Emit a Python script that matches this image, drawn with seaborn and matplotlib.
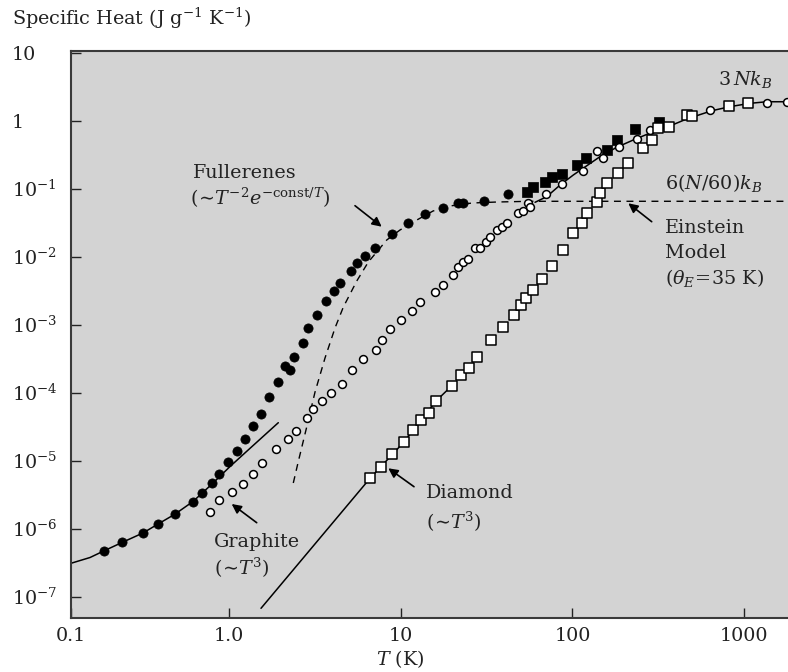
import numpy as np
import pandas as pd
import matplotlib
matplotlib.use("Agg")
import matplotlib.pyplot as plt
import seaborn as sns

# ---------------- data ----------------
fullerene_T = [0.187, 0.237, 0.315, 0.386, 0.483, 0.614, 0.690, 0.790, 0.871, 0.983,
               1.104, 1.234, 1.369, 1.530, 1.711, 1.922, 2.112, 2.249, 2.389, 2.689,
               2.887, 3.231, 3.646, 4.059, 4.418, 5.085, 5.549, 6.179, 7.066, 8.84,
               11.04, 13.82, 17.66, 21.6, 23.1, 30.6, 42.3]
fullerene_C = [4.7e-7, 6.4e-7, 8.6e-7, 1.19e-6, 1.66e-6, 2.51e-6, 3.38e-6, 4.62e-6, 6.44e-6, 9.57e-6,
               1.39e-5, 2.06e-5, 3.2e-5, 4.91e-5, 8.55e-5, 1.45e-4, 2.45e-4, 2.13e-4, 3.38e-4, 5.38e-4,
               8.89e-4, 1.39e-3, 2.21e-3, 3.15e-3, 4.13e-3, 6.16e-3, 8.16e-3, 1.04e-2, 1.36e-2, 2.14e-2,
               3.16e-2, 4.25e-2, 5.15e-2, 6.1e-2, 6.22e-2, 6.6e-2, 8.27e-2]

fullerene_hi_T = [54.1, 59.1, 69.2, 76.3, 86.5, 105.8, 119.4, 158.2, 181, 231, 320]
fullerene_hi_C = [0.0894, 0.107, 0.127, 0.147, 0.164, 0.223, 0.280, 0.371, 0.520, 0.748, 0.947]

graphite_T = [0.772, 0.871, 1.037, 1.197, 1.374, 1.557, 1.879, 2.184, 2.441, 2.837,
              3.074, 3.483, 3.899, 4.519, 5.168, 6.014, 7.112, 7.729, 8.641, 9.95,
              11.6, 12.84, 15.8, 17.66, 20.0, 21.6, 23.1, 24.7, 27.0, 28.9,
              31.3, 33.0, 36.2, 38.7, 41.4, 48.3, 51.3, 55.3, 56.5, 69.8,
              86.5, 114.7, 139.5, 150, 186.6, 236.7, 282.9, 313.7, 633, 1354, 1778]
graphite_C = [1.78e-6, 2.64e-6, 3.43e-6, 4.59e-6, 6.31e-6, 9.25e-6, 1.48e-5, 2.06e-5, 2.76e-5, 4.25e-5,
              5.82e-5, 7.55e-5, 9.84e-5, 1.33e-4, 2.16e-4, 3.16e-4, 4.25e-4, 5.96e-4, 8.56e-4, 1.19e-3,
              1.59e-3, 2.18e-3, 3.06e-3, 3.83e-3, 5.38e-3, 7.13e-3, 8.44e-3, 9.16e-3, 1.33e-2, 1.33e-2,
              1.66e-2, 1.97e-2, 2.47e-2, 2.71e-2, 3.16e-2, 4.35e-2, 4.7e-2, 6.1e-2, 5.44e-2, 8.36e-2,
              0.117, 0.184, 0.362, 0.280, 0.406, 0.538, 0.730, 0.773, 1.44, 1.85, 1.90]

diamond_T = [6.61, 7.63, 8.91, 10.45, 11.81, 13.01, 14.58, 16.02, 19.77, 22.4,
             24.9, 27.9, 33.6, 39.4, 45.7, 50.2, 53.6, 59.1, 66.2, 76.3,
             88.4, 101.1, 113.1, 121, 138.4, 144.7, 159.5, 184.9, 211.4, 256.6,
             291.7, 316.2, 366.6, 466.7, 495, 822, 1054]
diamond_C = [5.51e-6, 8.0e-6, 1.24e-5, 1.9e-5, 2.83e-5, 3.97e-5, 4.98e-5, 7.55e-5, 1.26e-4, 1.82e-4,
             2.33e-4, 3.32e-4, 5.86e-4, 9.1e-4, 1.40e-3, 1.93e-3, 2.47e-3, 3.24e-3, 4.65e-3, 7.38e-3,
             1.26e-2, 2.25e-2, 3.16e-2, 4.35e-2, 6.31e-2, 8.56e-2, 0.120, 0.168, 0.241, 0.393,
             0.520, 0.773, 0.80, 1.2, 1.17, 1.64, 1.85]

# fitted / model curves
ful_low_T = [0.1195, 0.1543, 0.187, 0.237, 0.314, 0.384, 0.483, 0.614, 0.793, 1.01, 1.32, 1.93]
ful_low_C = [3.1e-7, 3.77e-7, 4.75e-7, 6.27e-7, 8.65e-7, 1.17e-6, 1.64e-6, 2.51e-6, 4.54e-6, 8.22e-6, 1.52e-5, 3.62e-5]

einstein_T = [2.36, 2.52, 2.825, 3.158, 3.612, 4.13, 4.62, 5.53, 6.46, 8.27, 9.88, 12.4,
              15.4, 19.3, 26.0, 36.3, 56.5, 1803]
einstein_C = [4.7e-6, 9.57e-6, 3.13e-5, 1.02e-4, 3.24e-4, 8.94e-4, 1.82e-3, 4.39e-3, 8.36e-3, 1.76e-2,
              2.47e-2, 3.47e-2, 4.7e-2, 5.57e-2, 6.16e-2, 6.37e-2, 6.53e-2, 6.53e-2]

diamond_fit_T = [1.53, 6.61, 10.45, 16.02, 19.77]
diamond_fit_C = [6.75e-8, 5.51e-6, 1.9e-5, 7.55e-5, 1.26e-4]

high_fit_T = [60.5, 70.7, 84.6, 101.1, 144.7, 181, 226, 296, 354, 463, 648, 828, 1082, 1354, 1803]
high_fit_C = [0.0631, 0.0762, 0.113, 0.159, 0.296, 0.406, 0.52, 0.689, 0.80, 1.06, 1.40, 1.61, 1.80, 1.90, 1.90]

x_tick_vals = [0.1195, 1, 10, 100, 1000]
x_tick_labels = ["0.1", "1.0", "10", "100", "1000"]
y_tick_vals = [1e1, 1e0, 1e-1, 1e-2, 1e-3, 1e-4, 1e-5, 1e-6, 1e-7]
y_tick_labels = ["10", "1", r"$10^{-1}$", r"$10^{-2}$", r"$10^{-3}$", r"$10^{-4}$",
                 r"$10^{-5}$", r"$10^{-6}$", r"$10^{-7}$"]

# ---------------- style ----------------
sns.set_style("ticks")
plt.rcParams["font.family"] = ["DejaVu Serif"]
plt.rcParams["mathtext.fontset"] = "dejavuserif"
FS = 13.8

W, H = 788, 672
fig = plt.figure(figsize=(W / 100, H / 100), dpi=100)
L, R, T_, B = 71, 788, 50.7, 617.7
ax = fig.add_axes([L / W, (H - B) / H, (R - L) / W, (B - T_) / H])
ax.set_facecolor("#d3d3d3")
ax.set_xscale("log")
ax.set_yscale("log")

# lines
sns.lineplot(x=ful_low_T, y=ful_low_C, sort=False, estimator=None, ax=ax,
             color="black", lw=1.1, zorder=2)
sns.lineplot(x=diamond_fit_T, y=diamond_fit_C, sort=False, estimator=None, ax=ax,
             color="black", lw=1.1, zorder=2)
sns.lineplot(x=high_fit_T, y=high_fit_C, sort=False, estimator=None, ax=ax,
             color="black", lw=1.1, zorder=2)
sns.lineplot(x=einstein_T, y=einstein_C, sort=False, estimator=None, ax=ax,
             color="black", lw=1.0, zorder=2, linestyle=(0, (5, 4)))

# markers
sns.scatterplot(x=fullerene_T, y=fullerene_C, ax=ax, marker="o", s=44,
                color="black", edgecolor="black", linewidth=0.5, zorder=4)
sns.scatterplot(x=fullerene_hi_T, y=fullerene_hi_C, ax=ax, marker="s", s=56,
                color="black", edgecolor="black", linewidth=0.5, zorder=4)
sns.scatterplot(x=graphite_T, y=graphite_C, ax=ax, marker="o", s=32,
                color="white", edgecolor="black", linewidth=1.1, zorder=5)
sns.scatterplot(x=diamond_T, y=diamond_C, ax=ax, marker="s", s=46,
                color="white", edgecolor="black", linewidth=1.1, zorder=5)

ax.set_xlim(0.1195, 1803)
ax.set_ylim(4.91e-8, 10.7)

ax.xaxis.set_minor_locator(matplotlib.ticker.NullLocator())
ax.yaxis.set_minor_locator(matplotlib.ticker.NullLocator())
ax.set_xticks(x_tick_vals)
ax.set_xticklabels(x_tick_labels)
ax.set_yticks(y_tick_vals)
ax.set_yticklabels(y_tick_labels)
ax.tick_params(axis="x", direction="in", length=7, width=1, labelsize=FS, pad=7, colors="#222222")
ax.tick_params(axis="y", direction="in", length=7, width=1, labelsize=FS, pad=42.5, colors="#222222")
for lab in ax.get_yticklabels():
    lab.set_horizontalalignment("left")

for side in ["left", "bottom", "top"]:
    ax.spines[side].set_color("#3a3a3a")
    ax.spines[side].set_linewidth(1.5)
ax.spines["right"].set_visible(False)
ax.set_xlabel("")
ax.set_ylabel("")


def fp(x, y):
    return (x, H - y)


def txt(x, y, s, **kw):
    ax.annotate(s, xy=fp(x, y), xycoords="figure pixels", ha="left", va="center",
                fontsize=FS, color="#222222", annotation_clip=False, **kw)


def arrow(x0, y0, x1, y1):
    ax.annotate("", xy=fp(x1, y1), xycoords="figure pixels",
                xytext=fp(x0, y0), textcoords="figure pixels",
                arrowprops=dict(arrowstyle="-|>", color="black", lw=1.2,
                                mutation_scale=14, shrinkA=0, shrinkB=0),
                annotation_clip=False)


# title / axis label
txt(12, 18, r"Specific Heat (J g$^{-1}$ K$^{-1}$)")
ax.annotate(r"$T$ (K)", xy=fp(400, 659), xycoords="figure pixels", ha="center", va="center",
            fontsize=FS, color="#222222", annotation_clip=False)

# annotations
txt(193, 173, "Fullerenes")
txt(190, 198, r"$(\!{\sim}\!T^{-2}e^{-\mathrm{const}/T})$")
arrow(355, 205.7, 381.7, 226.7)

txt(718, 80, r"$3\,Nk_B$")
txt(665, 183, r"$6(N/60)k_B$")
txt(665, 228, "Einstein")
txt(665, 253, "Model")
txt(665, 278, r"($\theta_E\!=\!35$ K)")
arrow(651.7, 221.7, 628.3, 203.3)

txt(214, 542, "Graphite")
txt(214, 568, r"$(\!{\sim}\!T^3)$")
arrow(256.7, 522.7, 231.7, 504)

txt(426, 493, "Diamond")
txt(426, 522, r"$(\!{\sim}\!T^3)$")
arrow(414, 486.7, 388.3, 468.3)

fig.savefig("out.png", dpi=100)
